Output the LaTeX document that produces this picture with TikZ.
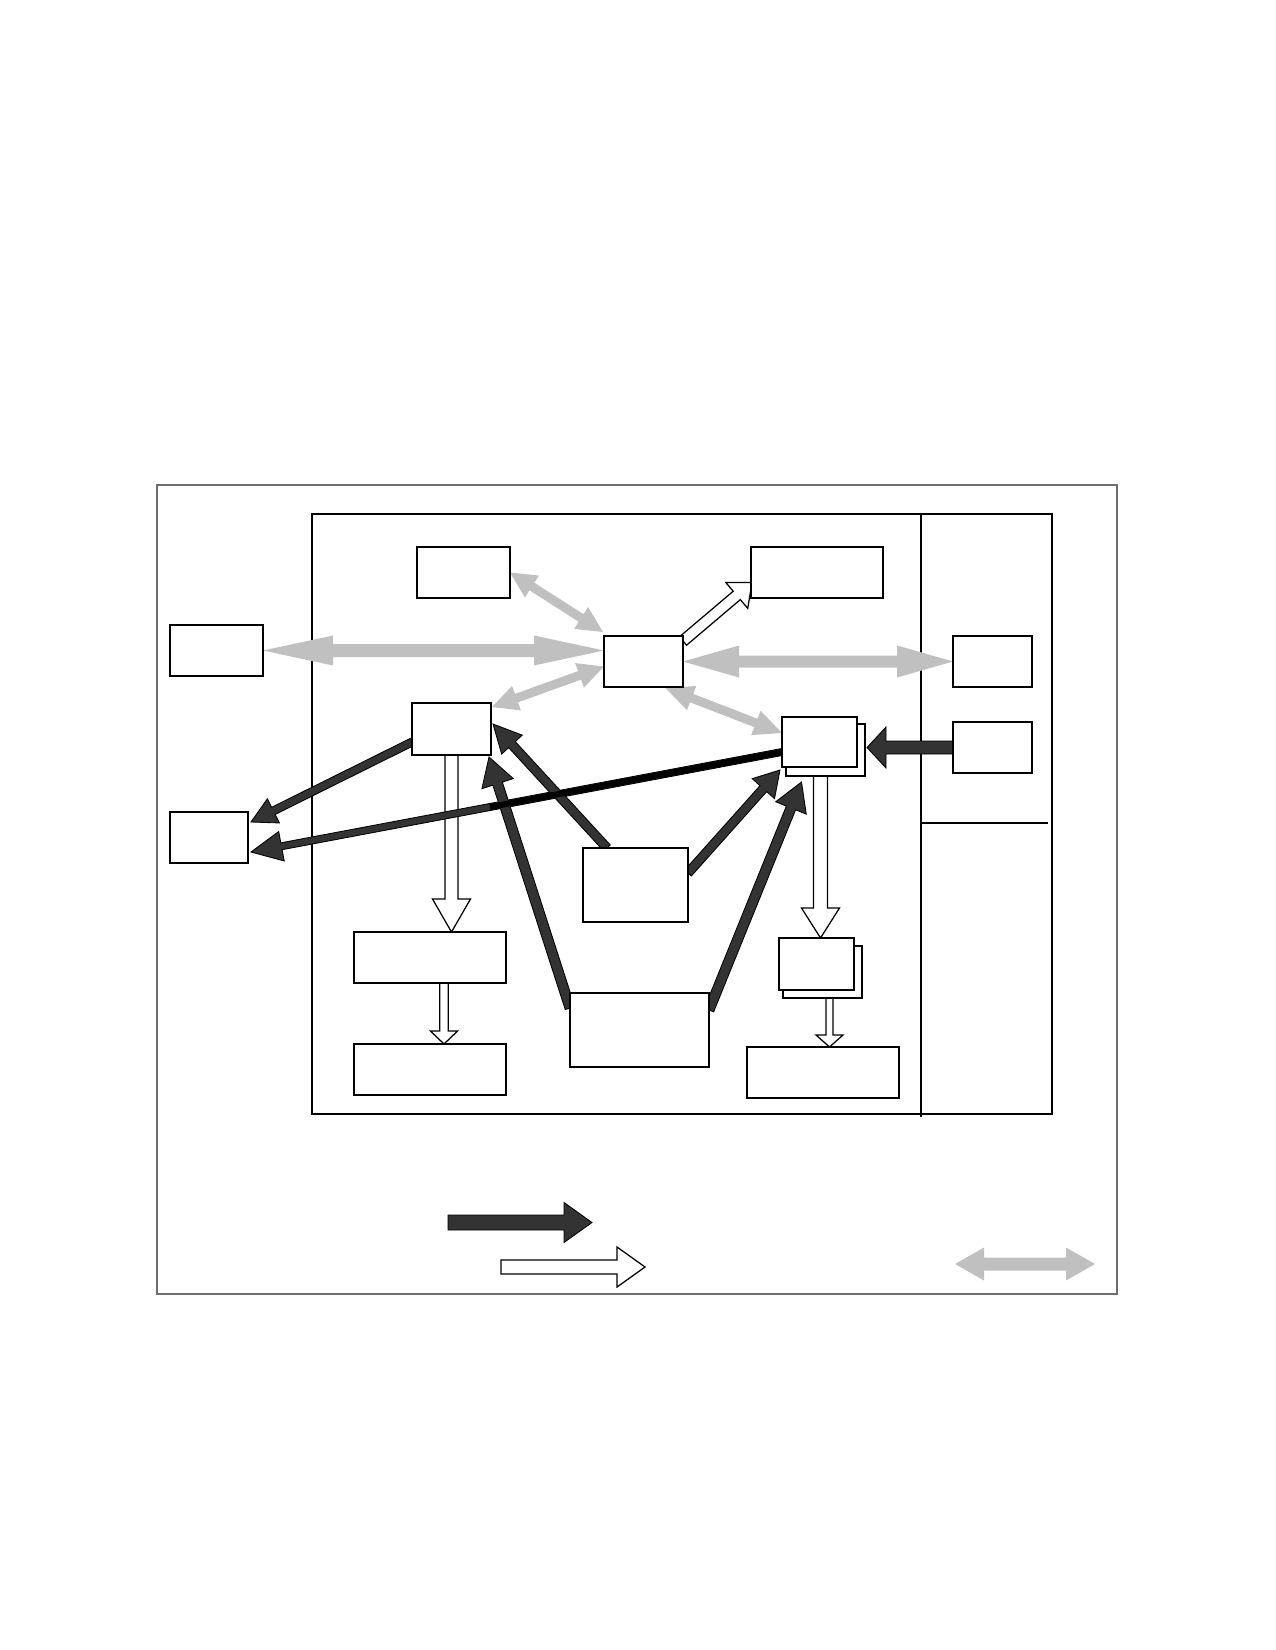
\documentclass[tikz,border=0pt]{standalone}
\usetikzlibrary{calc}
\definecolor{lgray}{HTML}{C0C0C0}
\definecolor{dgray}{HTML}{333333}
\definecolor{fgray}{HTML}{6E6E6E}
\newcommand\mkbox[6][]{%
  \pgfmathsetmacro\bxw{(#5-#3)*0.48}%
  \pgfmathsetmacro\bxh{(#6-#4)*0.48}%
  \node[box,#1,minimum width=\bxw pt,minimum height=\bxh pt,anchor=north west] (#2) at (#3,#4) {};}
\newcommand\blockarrow[6]{%
  \pgfmathsetmacro\bsw{#4*0.24}%
  \pgfmathsetmacro\bhw{#5*0.24}%
  \pgfmathsetmacro\bhl{#6*0.48}%
  \coordinate (hb) at ($(#3)!\bhl pt!(#2)$);
  \draw[#1] ($(#2)!\bsw pt!90:(#3)$) -- ($(hb)!\bsw pt!90:(#3)$) -- ($(hb)!\bhw pt!90:(#3)$) -- (#3)
    -- ($(hb)!\bhw pt!-90:(#3)$) -- ($(hb)!\bsw pt!-90:(#3)$) -- ($(#2)!\bsw pt!-90:(#3)$) -- cycle;}
\newcommand\dblarrow[6]{%
  \pgfmathsetmacro\bsw{#4*0.24}%
  \pgfmathsetmacro\bhw{#5*0.24}%
  \pgfmathsetmacro\bhl{#6*0.48}%
  \coordinate (hbA) at ($(#2)!\bhl pt!(#3)$);
  \coordinate (hbB) at ($(#3)!\bhl pt!(#2)$);
  \path[#1] (#2) -- ($(hbA)!\bhw pt!90:(#3)$) -- ($(hbA)!\bsw pt!90:(#3)$) -- ($(hbB)!\bsw pt!90:(#3)$)
    -- ($(hbB)!\bhw pt!90:(#3)$) -- (#3) -- ($(hbB)!\bhw pt!-90:(#3)$) -- ($(hbB)!\bsw pt!-90:(#3)$)
    -- ($(hbA)!\bsw pt!-90:(#3)$) -- ($(hbA)!\bhw pt!-90:(#3)$) -- cycle;}
\begin{document}
\begin{tikzpicture}[x=0.48pt,y=-0.48pt,
  box/.style={draw=black,line width=0.8pt,fill=white,inner sep=0pt,outer sep=0pt},
  frame/.style={fill=none},
  grayarr/.style={fill=lgray,draw=none},
  darkarr/.style={fill=dgray,draw=black,line width=0.4pt,line join=miter},
  whitearr/.style={fill=white,draw=black,line width=0.6pt,line join=miter}]
\useasboundingbox (0,0) rectangle (1275,1650);
% frames
\mkbox[frame,draw=fgray,line width=0.8pt]{outer}{157}{485}{1117}{1294}
\mkbox[frame,line width=0.6pt]{inner}{312}{514}{1052}{1114}
\coordinate (dv1) at (921,514);
\coordinate (dv2) at (921,1117);
\coordinate (hd1) at (921,823);
\coordinate (hd2) at (1048,823);
\draw[line width=0.6pt] (dv1) -- (dv2);
\draw[line width=0.6pt] (hd1) -- (hd2);
% box positions (placed first to get anchors, redrawn later on top)
\begin{scope}[box/.style={inner sep=0pt,outer sep=0pt}]
\mkbox{A}{417}{547}{510}{598}
\mkbox{B}{751}{547}{883}{598}
\mkbox{L1}{170}{625}{263}{676}
\mkbox{C}{604}{636}{683}{687}
\mkbox{R1}{953}{636}{1032}{687}
\mkbox{D}{412}{703}{491}{755}
\mkbox{Eb}{786}{724}{865}{776}
\mkbox{E}{782}{717}{857}{767}
\mkbox{R2}{953}{722}{1032}{773}
\mkbox{L2}{170}{812}{248}{863}
\mkbox{F}{583}{848}{688}{922}
\mkbox{G}{354}{932}{506}{983}
\mkbox{H}{354}{1044}{506}{1095}
\mkbox{I}{570}{993}{709}{1067}
\mkbox{Jb}{783}{946}{862}{998}
\mkbox{J}{779}{938}{854}{990}
\mkbox{K}{747}{1047}{899}{1098}
\end{scope}
% gray double arrows
\coordinate (g1a) at (L1.east);
\coordinate (g1b) at ($(C.west)+(0,-11)$);
\dblarrow{grayarr}{g1a}{g1b}{13}{30}{70}
\coordinate (g2a) at (A.east);
\coordinate (g2b) at ($(C.north west)+(-1,-4)$);
\dblarrow{grayarr}{g2a}{g2b}{9}{26}{26}
\coordinate (g3a) at ($(D.north east)+(1,4)$);
\coordinate (g3b) at ($(C.west)+(0,5)$);
\dblarrow{grayarr}{g3a}{g3b}{9}{26}{26}
\coordinate (g4a) at (C.east);
\coordinate (g4b) at (R1.west);
\dblarrow{grayarr}{g4a}{g4b}{12}{32}{56}
\coordinate (g5a) at ($(C.south)+(22,1)$);
\coordinate (g5b) at ($(E.west)+(0,-9)$);
\dblarrow{grayarr}{g5a}{g5b}{9}{26}{28}
% white hollow arrows
\coordinate (w1a) at ($(C.north east)+(0,5)$);
\coordinate (w1b) at ($(B.west)+(1,10)$);
\blockarrow{whitearr}{w1a}{w1b}{11}{34}{20}
\coordinate (w2a) at (D.south);
\coordinate (w2b) at (D.south |- G.north);
\blockarrow{whitearr}{w2a}{w2b}{13}{38}{33}
\coordinate (w3a) at ($(G.south)+(14,0)$);
\coordinate (w3b) at (w3a |- H.north);
\blockarrow{whitearr}{w3a}{w3b}{8.5}{27}{13}
\coordinate (w4a) at ($(Eb.south)+(-5,0)$);
\coordinate (w4b) at (w4a |- J.north);
\blockarrow{whitearr}{w4a}{w4b}{14}{38}{30}
\coordinate (w5a) at ($(Jb.south)+(7,0)$);
\coordinate (w5b) at (w5a |- K.north);
\blockarrow{whitearr}{w5a}{w5b}{7}{27}{12}
% dark arrows
\coordinate (d1a) at ($(D.west)+(0,13)$);
\coordinate (d1b) at ($(L2.north east)+(3,10)$);
\blockarrow{darkarr}{d1a}{d1b}{8}{27}{25}
\coordinate (d2a) at ($(E.west)+(0,10)$);
\coordinate (d2b) at ($(L2.east)+(3,14.5)$);
\blockarrow{darkarr}{d2a}{d2b}{7}{30}{31}
\coordinate (d3a) at ($(F.north west)+(24,0)$);
\coordinate (d3b) at ($(D.east)+(2,-5)$);
\blockarrow{darkarr}{d3a}{d3b}{9}{28}{28}
\coordinate (d4a) at ($(I.west)+(0,-22)$);
\coordinate (d4b) at ($(D.south east)+(-2,2)$);
\blockarrow{darkarr}{d4a}{d4b}{10}{33}{28}
\coordinate (d5a) at ($(F.east)+(0,-12)$);
\coordinate (d5b) at ($(E.south west)+(-2,3)$);
\blockarrow{darkarr}{d5a}{d5b}{9}{30}{25}
\coordinate (d6a) at ($(I.east)+(0,-20)$);
\coordinate (d6b) at ($(Eb.south)+(-24,6)$);
\blockarrow{darkarr}{d6a}{d6b}{10}{33}{28}
\coordinate (d7a) at (R2.west);
\coordinate (d7b) at ($(R2.west)+(-86,0)$);
\blockarrow{darkarr}{d7a}{d7b}{13}{41}{19}
\coordinate (d2m) at ($(d2a)!0.55!(d2b)$);
\draw[line width=2.9pt,black] (d2a) -- (d2m);
% boxes on top
\mkbox{A}{417}{547}{510}{598}
\mkbox{B}{751}{547}{883}{598}
\mkbox{L1}{170}{625}{263}{676}
\mkbox{C}{604}{636}{683}{687}
\mkbox{R1}{953}{636}{1032}{687}
\mkbox{D}{412}{703}{491}{755}
\mkbox{Eb}{786}{724}{865}{776}
\mkbox{E}{782}{717}{857}{767}
\mkbox{R2}{953}{722}{1032}{773}
\mkbox{L2}{170}{812}{248}{863}
\mkbox{F}{583}{848}{688}{922}
\mkbox{G}{354}{932}{506}{983}
\mkbox{H}{354}{1044}{506}{1095}
\mkbox{I}{570}{993}{709}{1067}
\mkbox{Jb}{783}{946}{862}{998}
\mkbox{J}{779}{938}{854}{990}
\mkbox{K}{747}{1047}{899}{1098}
% legend
\coordinate (l1a) at (448,1222.5);
\coordinate (l1b) at (592,1222.5);
\blockarrow{darkarr}{l1a}{l1b}{15}{40}{28}
\coordinate (l2a) at (501,1267);
\coordinate (l2b) at (645,1267);
\blockarrow{whitearr}{l2a}{l2b}{14}{40}{28}
\coordinate (l3a) at (955,1264);
\coordinate (l3b) at (1095,1264);
\dblarrow{grayarr}{l3a}{l3b}{13}{33}{29}
\end{tikzpicture}
\end{document}
